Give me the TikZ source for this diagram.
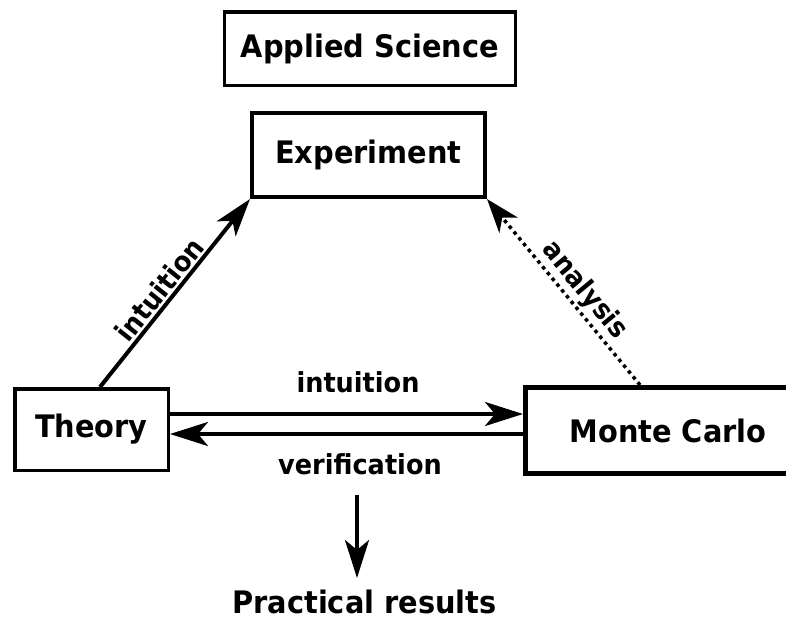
\documentclass[tikz,border=0pt]{standalone}
\usepackage{fontspec}
\setmainfont{DejaVu Sans}[FakeStretch=0.93]
\usetikzlibrary{arrows.meta}

\tikzset{
  big/.style={font=\fontsize{31}{34}\selectfont\bfseries},
  box/.style={draw, line width=3.5pt, inner sep=0pt, big},
  lbl/.style={font=\fontsize{27.5}{30}\selectfont\bfseries, inner sep=2pt},
  arr/.style={line width=4pt, -{Stealth[length=38pt, width=24pt, inset=10pt]}},
  dotarr/.style={line width=3.5pt, dash pattern=on 3.5pt off 4pt,
    -{Stealth[length=34pt, width=24pt, inset=10pt]}},
}

\begin{document}
\begin{tikzpicture}[x=1pt, y=-1pt]
  \useasboundingbox (0,0) rectangle (786,619);
  \clip (0,0) rectangle (786,619);

  % boxes
  \node[box, minimum width=291pt, minimum height=73.5pt] (applied) at (370,48.5) {Applied Science};
  \node[box, line width=4pt, minimum width=233pt, minimum height=84pt] (exp) at (368.5,155) {Experiment};
  \node[box, minimum width=153.5pt, minimum height=81.5pt] (theory) at (91.5,429.5) {Theory};
  \node[box, line width=5pt, minimum width=285pt, minimum height=86pt] (mc) at (668,430.5) {};
  \node[big] (mctext) at (668,430.5) {Monte Carlo};

  % outcome below
  \node[big, inner sep=0pt, anchor=base] (res) at (364.5,613) {Practical results};
  \coordinate (src) at (357,495);
  \coordinate (dst) at (357,578);

  % connectors
  \draw[arr] ([yshift=15.5pt]theory.east) -- ([yshift=15.5pt]theory.east -| mc.west);
  \draw[arr] ([yshift=-3.5pt]mc.west) -- ([yshift=-3.5pt]mc.west -| theory.east);
  \draw[arr] ([xshift=8.5pt]theory.north) -- node[lbl, sloped, above, pos=0.47] {intuition} (exp.south west);
  \draw[dotarr] ([xshift=-28pt]mc.north) -- node[lbl, sloped, above, pos=0.45] {analysis} (exp.south east);
  \draw[arr] (src) -- (dst);

  % labels of the horizontal pair
  \node[lbl] (lint) at (358,382) {intuition};
  \node[lbl] (lver) at (360,464) {verification};
\end{tikzpicture}
\end{document}
